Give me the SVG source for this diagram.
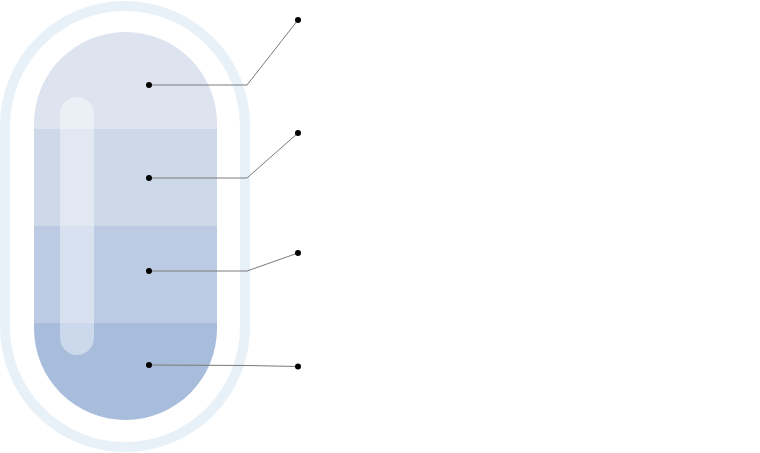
<svg xmlns="http://www.w3.org/2000/svg" width="760" height="453" viewBox="0 0 760 453">
<style>
.conn{fill:none;stroke:#7a7a7a;stroke-width:1}
.dot{fill:#000}
</style>
<defs>
<clipPath id="cap"><rect x="34" y="32" width="183" height="388" rx="91.5" ry="91.5"/></clipPath>
</defs>
<rect width="760" height="453" fill="#fff"/>
<g id="outer-ring">
<rect x="5" y="6" width="240" height="441" rx="120" ry="120" fill="none" stroke="#e8f0f8" stroke-width="10"/>
</g>
<g id="capsule" clip-path="url(#cap)">
<rect id="band1" x="34" y="32" width="183" height="97.5" fill="#dde4f0"/>
<rect id="band2" x="34" y="129" width="183" height="97.5" fill="#cdd8e9"/>
<rect id="band3" x="34" y="226" width="183" height="97.5" fill="#bccbe3"/>
<rect id="band4" x="34" y="323" width="183" height="97" fill="#a8bcdc"/>
</g>
<g id="highlight">
<rect x="60" y="97" width="34" height="258" rx="17" ry="17" fill="#ffffff" fill-opacity="0.42"/>
</g>
<g id="connectors">
<polyline class="conn" points="149,85 247,85 298,20"/>
<polyline class="conn" points="149,178 247,178 298,133"/>
<polyline class="conn" points="149,271 247,271 298,253"/>
<polyline class="conn" points="149,365 247,365.5 298,366.5"/>
</g>
<g id="dots">
<circle class="dot" cx="149" cy="85" r="3"/>
<circle class="dot" cx="298" cy="20" r="3"/>
<circle class="dot" cx="149" cy="178" r="3"/>
<circle class="dot" cx="298" cy="133" r="3"/>
<circle class="dot" cx="149" cy="271" r="3"/>
<circle class="dot" cx="298" cy="253" r="3"/>
<circle class="dot" cx="149" cy="365" r="3"/>
<circle class="dot" cx="298" cy="366.5" r="3"/>
</g>
</svg>
